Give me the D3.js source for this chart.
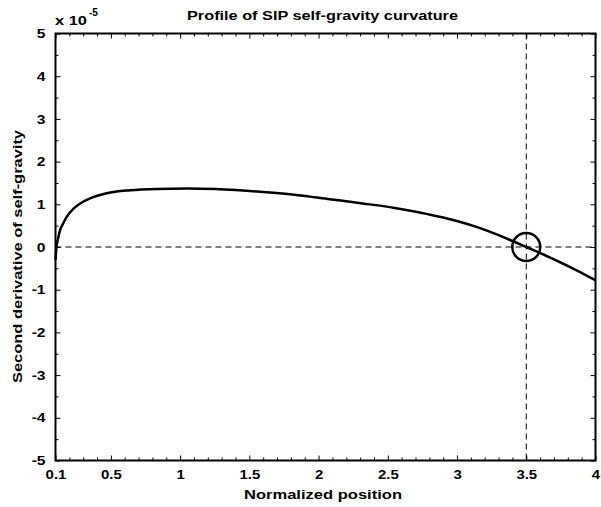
<!DOCTYPE html>
<html>
<head>
<meta charset="utf-8">
<script src="https://cdn.jsdelivr.net/npm/d3@7"></script>
<style>
  html, body { margin: 0; padding: 0; background: #fff; }
  svg { display: block; }
  text { font-family: "Liberation Sans", Arial, Helvetica, sans-serif; font-weight: bold; fill: #000; }
</style>
</head>
<body>
<svg id="chart" width="601" height="507"></svg>
<script>
// Normalized position along the profile
const positions = [0.1, 0.105, 0.12, 0.134, 0.16, 0.182, 0.23, 0.278, 0.35, 0.47, 0.64, 0.83, 1.05, 1.26, 1.43,
                   1.60, 1.84, 2.08, 2.32, 2.56, 2.73, 2.90, 3.14, 3.38, 3.5, 3.62, 3.86, 4.0];
// Second derivative of self-gravity (units of 1e-5)
const curvature = [-0.3, -0.07, 0.22, 0.4, 0.58, 0.71, 0.9, 1.02, 1.14, 1.26, 1.33, 1.36, 1.37, 1.36, 1.33,
                   1.29, 1.22, 1.12, 1.02, 0.91, 0.81, 0.69, 0.47, 0.17, 0.0, -0.17, -0.54, -0.78];
// Tick labels
const xTicks = [0.1, 0.5, 1, 1.5, 2, 2.5, 3, 3.5, 4];
const xMinor = [0.2, 0.3, 0.4, 0.6, 0.7, 0.8, 0.9, 1.1, 1.2, 1.3, 1.4, 1.6, 1.7, 1.8, 1.9, 2.1, 2.2, 2.3, 2.4,
                2.6, 2.7, 2.8, 2.9, 3.1, 3.2, 3.3, 3.4, 3.6, 3.7, 3.8, 3.9];
const yTicks = [-5, -4, -3, -2, -1, 0, 1, 2, 3, 4, 5];
const yMinor = [-4.5, -3.5, -2.5, -1.5, -0.5, 0.5, 1.5, 2.5, 3.5, 4.5];
// Zero crossing marker
const crossing = { x: 3.5, y: 0 };

const svg = d3.select("#chart");
const plotL = 55.5, plotR = 595.5, plotT = 33.5, plotB = 460.5;

const x = d3.scaleLinear().domain([0.1, 4]).range([plotL, plotR]);
const y = d3.scaleLinear().domain([-5, 5]).range([plotB, plotT]);

// Widen glyphs horizontally by a factor, keeping the anchor
function widen(sel, factor) {
  sel.each(function () {
    const w = this.getComputedTextLength();
    d3.select(this).attr("textLength", w * factor).attr("lengthAdjust", "spacingAndGlyphs");
  });
}

// Reference lines: zero level and crossing position
svg.append("line")
  .attr("x1", x(0.1)).attr("x2", x(4)).attr("y1", y(0)).attr("y2", y(0))
  .attr("stroke", "#000").attr("stroke-width", 1).attr("stroke-dasharray", "6,4");
svg.append("line")
  .attr("x1", x(crossing.x)).attr("x2", x(crossing.x)).attr("y1", y(5)).attr("y2", y(-5))
  .attr("stroke", "#000").attr("stroke-width", 1).attr("stroke-dasharray", "6,4");

// Curvature profile
const line = d3.line().x((d, i) => x(positions[i])).y(d => y(d)).curve(d3.curveMonotoneX);
svg.append("path")
  .datum(curvature)
  .attr("d", line)
  .attr("fill", "none").attr("stroke", "#000").attr("stroke-width", 2.5)
  .attr("stroke-linejoin", "round");

// Circle around the zero crossing
svg.append("circle")
  .attr("cx", x(crossing.x)).attr("cy", y(crossing.y)).attr("r", 14)
  .attr("fill", "none").attr("stroke", "#000").attr("stroke-width", 2.5);

// Axes on all four sides with inward ticks
const fmt = d => String(d);
const axBottom = d3.axisBottom(x).tickValues(xTicks).tickFormat(fmt).tickSizeInner(-5).tickSizeOuter(0).tickPadding(9);
const axTop = d3.axisTop(x).tickValues(xTicks).tickFormat("").tickSizeInner(-5).tickSizeOuter(0);
const axLeft = d3.axisLeft(y).tickValues(yTicks).tickFormat(fmt).tickSizeInner(-5).tickSizeOuter(0).tickPadding(10);
const axRight = d3.axisRight(y).tickValues(yTicks).tickFormat("").tickSizeInner(-5).tickSizeOuter(0);

const mB = d3.axisBottom(x).tickValues(xMinor).tickFormat("").tickSizeInner(-3).tickSizeOuter(0);
const mT = d3.axisTop(x).tickValues(xMinor).tickFormat("").tickSizeInner(-3).tickSizeOuter(0);
const mL = d3.axisLeft(y).tickValues(yMinor).tickFormat("").tickSizeInner(-3).tickSizeOuter(0);
const mR = d3.axisRight(y).tickValues(yMinor).tickFormat("").tickSizeInner(-3).tickSizeOuter(0);

function place(ax, tx, ty) {
  const g = svg.append("g").attr("transform", `translate(${tx},${ty})`).call(ax);
  g.select(".domain").remove();
  g.selectAll(".tick line").attr("stroke", "#000").attr("stroke-width", 1);
  g.selectAll(".tick text").attr("font-size", 13).attr("font-weight", "bold")
    .attr("font-family", "'Liberation Sans', Arial, Helvetica, sans-serif").attr("fill", "#000");
  return g;
}
widen(place(axBottom, 0, plotB).selectAll(".tick text"), 1.15);
place(axTop, 0, plotT);
widen(place(axLeft, plotL, 0).selectAll(".tick text"), 1.2);
place(axRight, plotR, 0);
place(mB, 0, plotB);
place(mT, 0, plotT);
place(mL, plotL, 0);
place(mR, plotR, 0);

// Box
svg.append("rect")
  .attr("x", plotL).attr("y", plotT).attr("width", plotR - plotL).attr("height", plotB - plotT)
  .attr("fill", "none").attr("stroke", "#000").attr("stroke-width", 2);

// Exponent multiplier
svg.append("text").attr("x", 55).attr("y", 25).attr("font-size", 13)
  .attr("textLength", 32).attr("lengthAdjust", "spacingAndGlyphs").text("x 10");
svg.append("text").attr("x", 89).attr("y", 16).attr("font-size", 10)
  .attr("textLength", 9).attr("lengthAdjust", "spacingAndGlyphs").text("-5");

// Title and axis labels
svg.append("text").attr("x", 322.5).attr("y", 19.5).attr("text-anchor", "middle").attr("font-size", 13)
  .attr("textLength", 271).attr("lengthAdjust", "spacingAndGlyphs")
  .text("Profile of SIP self-gravity curvature");
svg.append("text").attr("x", 323).attr("y", 499).attr("text-anchor", "middle").attr("font-size", 13)
  .attr("textLength", 158).attr("lengthAdjust", "spacingAndGlyphs")
  .text("Normalized position");
svg.append("text").attr("transform", "translate(22,256.5) rotate(-90)").attr("text-anchor", "middle")
  .attr("font-size", 13).attr("textLength", 253).attr("lengthAdjust", "spacingAndGlyphs")
  .text("Second derivative of self-gravity");
</script>
</body>
</html>
